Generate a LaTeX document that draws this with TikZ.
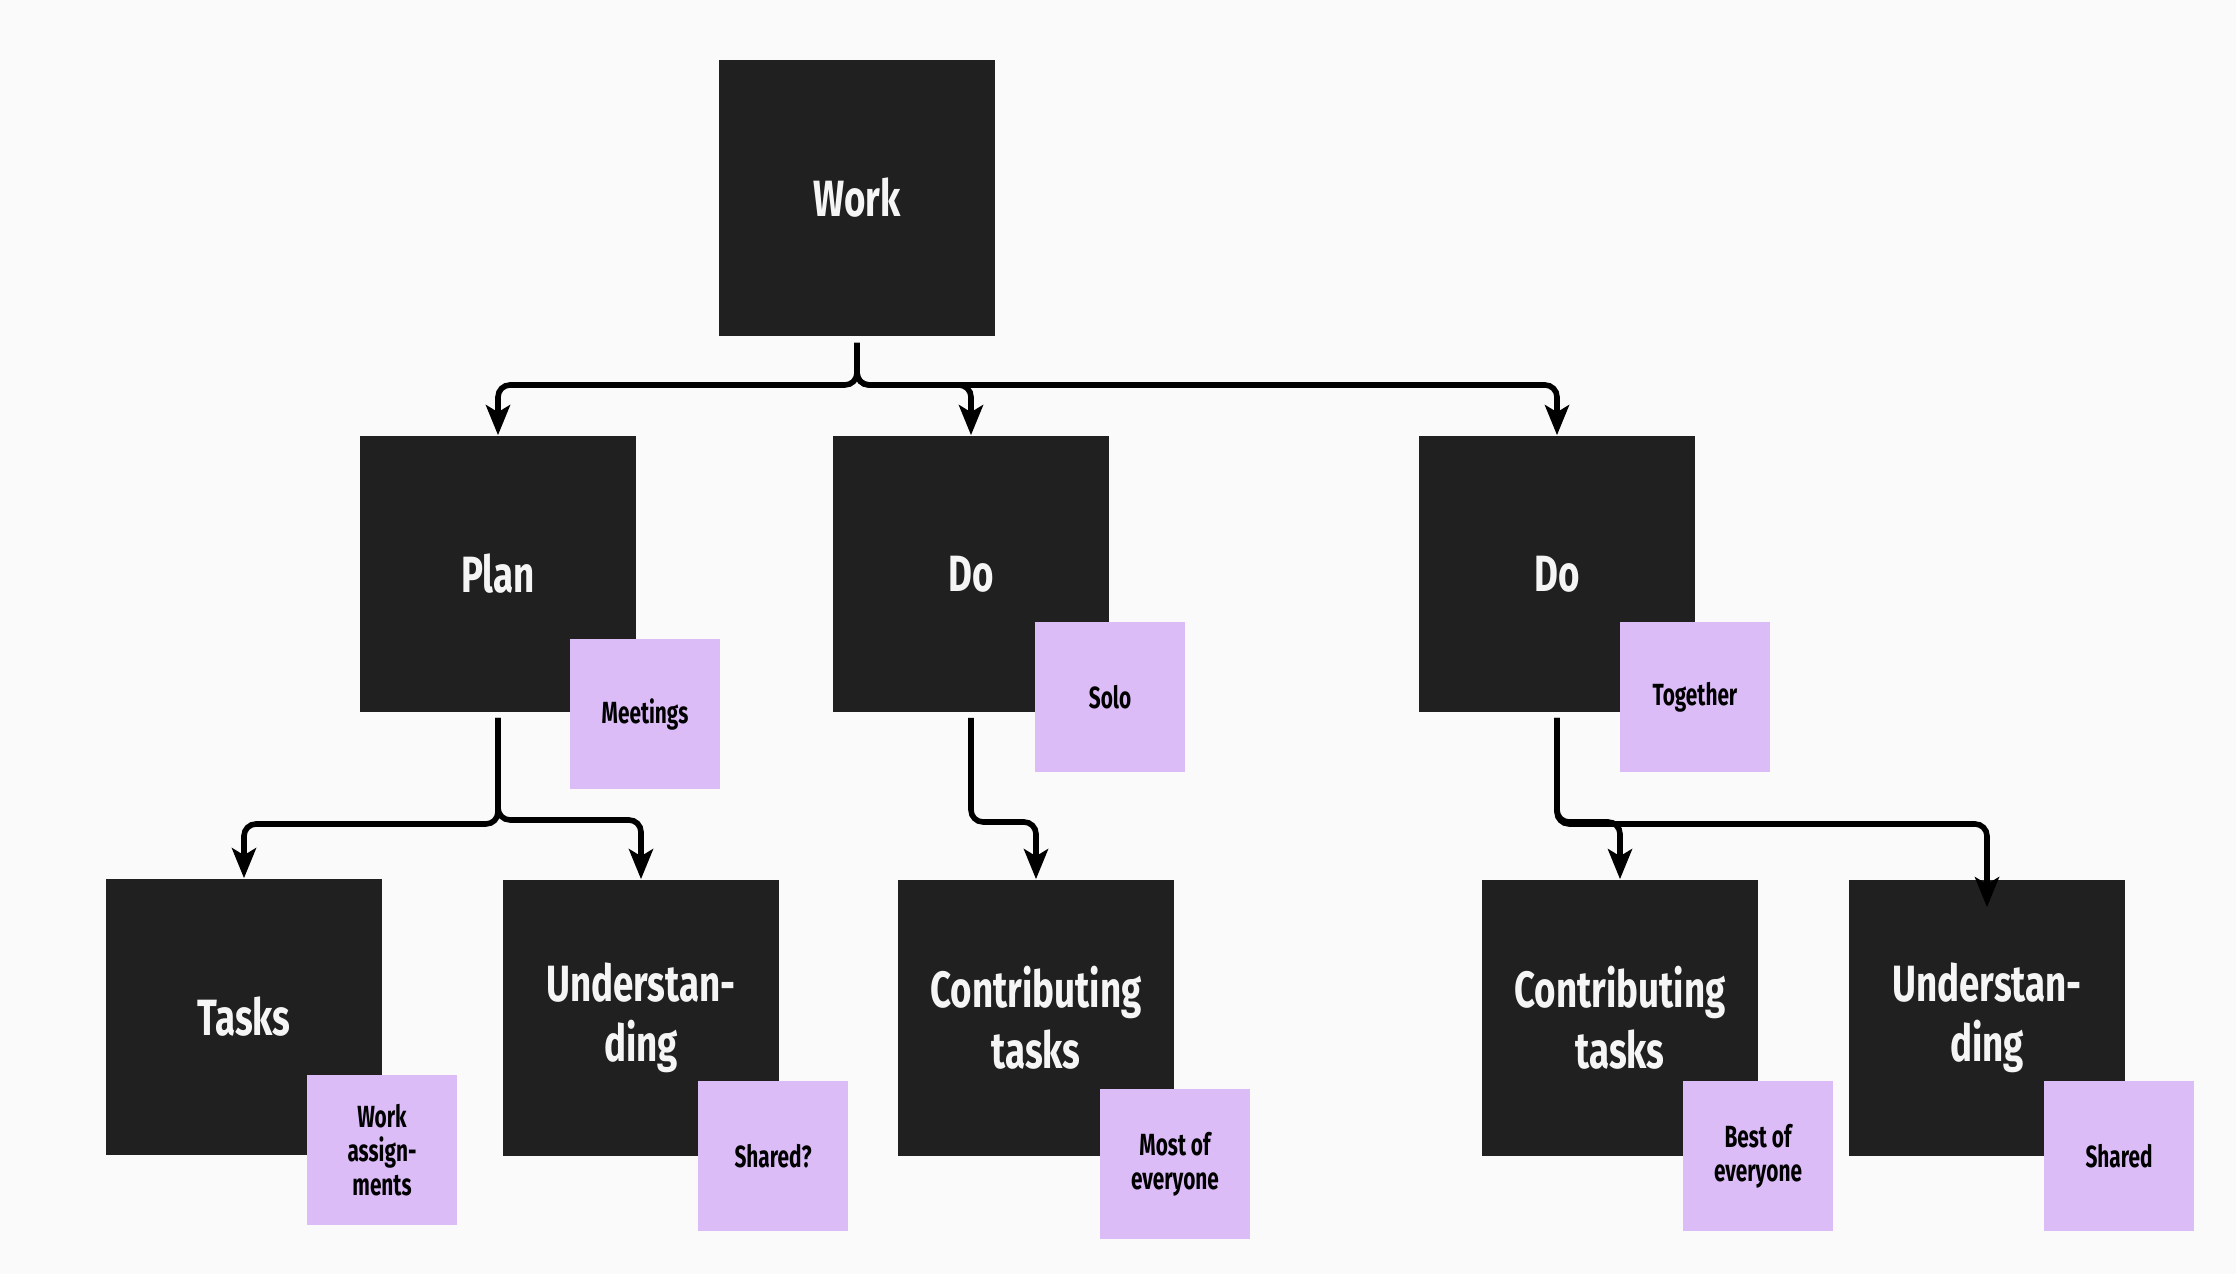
\documentclass[tikz,border=0pt]{standalone}
\usepackage{fontspec}
\usetikzlibrary{arrows.meta}
\newfontfamily\handfont{Fira Sans}[FakeStretch=0.72]
\newfontfamily\notefont{Fira Sans}[FakeStretch=0.68]
\definecolor{bgcol}{HTML}{FAFAFA}
\definecolor{blokcol}{HTML}{202020}
\definecolor{notecol}{HTML}{DCBCF7}
\definecolor{inkcol}{HTML}{F5F5F5}
\tikzset{
  blok/.style={fill=blokcol, text=inkcol, inner sep=0, minimum width=2.76cm, minimum height=2.76cm, align=center,
    font=\handfont\bfseries\fontsize{14.5}{17.2}\selectfont},
  sticky/.style={fill=notecol, text=black, inner sep=0, minimum width=1.5cm, minimum height=1.5cm, align=center,
    font=\notefont\bfseries\fontsize{8.7}{9.6}\selectfont},
  conn/.style={line width=0.056cm, rounded corners=0.12cm, -{Stealth[length=0.3cm, width=0.24cm, inset=0.07cm]}}
}

\begin{document}
\begin{tikzpicture}[x=0.01cm, y=-0.01cm]
			%%%%% START %%%%%
			
			\fill[bgcol] (0, 0) rectangle (2236, 1274);
			
			\node[blok] (work) at (857, 198) {Work};
			
			\node[blok] (plan) at (498, 574) {Plan};
			\node[blok] (doA) at (971, 574) {Do};
			\node[blok] (doB) at (1557, 574) {Do};
			
			\node[blok] (tasks) at (244, 1017) {Tasks};
			\node[blok] (undA) at (641, 1018) {Understan-\\ding};
			\node[blok] (contA) at (1036, 1018) {Contributing\\tasks};
			\node[blok] (contB) at (1620, 1018) {Contributing\\tasks};
			\node[blok] (undB) at (1987, 1018) {Understan-\\ding};
			
			\node[sticky] (meet) at (645, 714) {Meetings};
			\node[sticky] (solo) at (1110, 697) {Solo};
			\node[sticky] (toge) at (1695, 697) {Together};
			
			\node[sticky] (wass) at (382, 1150) {Work\\assign-\\ments};
			\node[sticky] (shq) at (773, 1156) {Shared?};
			\node[sticky] (most) at (1175, 1164) {Most of\\everyone};
			\node[sticky] (best) at (1758, 1156) {Best of\\everyone};
			\node[sticky] (shd) at (2119, 1156) {Shared};
			
			\coordinate (lvA) at (0, 385);
			\draw[conn] ([yshift=-0.06cm]work.south) -- (work.south |- lvA) -| (plan.north);
			\draw[conn] ([yshift=-0.06cm]work.south) -- (work.south |- lvA) -| (doA.north);
			\draw[conn] ([yshift=-0.06cm]work.south) -- (work.south |- lvA) -| (doB.north);
			
			\coordinate (lvB) at (0, 824);
			\coordinate (lvC) at (0, 820);
			\coordinate (lvD) at (0, 822);
			\draw[conn] ([yshift=-0.05cm]plan.south) -- (plan.south |- lvB) -| (tasks.north);
			\draw[conn] ([yshift=-0.05cm]plan.south) -- (plan.south |- lvC) -| (undA.north);
			\draw[conn] ([yshift=-0.05cm]doA.south) -- (doA.south |- lvD) -| (contA.north);
			\draw[conn] ([yshift=-0.05cm]doB.south) -- (doB.south |- lvD) -| (contB.north);
			\draw[conn] ([yshift=-0.05cm]doB.south) -- (doB.south |- lvB) -| ([yshift=-0.28cm]undB.north);
			
			%%%%% END %%%%%
\end{tikzpicture}
\end{document}
